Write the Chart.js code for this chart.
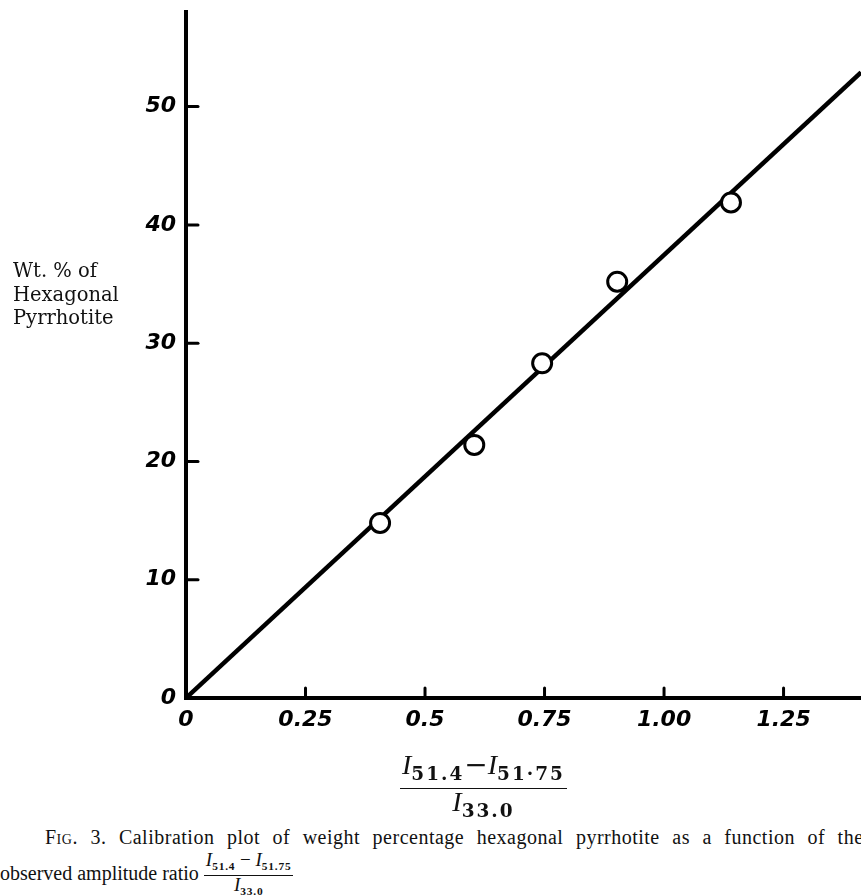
<!DOCTYPE html>
<html>
<head>
<meta charset="utf-8">
<script src="https://cdn.jsdelivr.net/npm/chart.js@4.4.1/dist/chart.umd.min.js"></script>
<style>
  html,body{margin:0;padding:0;background:#fff;}
  #wrap{position:relative;width:861px;height:896px;overflow:hidden;font-family:"DejaVu Serif",serif;color:#111;}
  #c{position:absolute;left:0;top:0;}
  .ylab{position:absolute;left:13px;top:259px;font-size:19.5px;line-height:23.5px;}
  .frac{display:inline-flex;flex-direction:column;align-items:center;vertical-align:middle;}
  .frac .num{padding:0 2px 1px 2px;}
  .frac .den{border-top:1.5px solid #111;align-self:stretch;text-align:center;}
  .frac i{font-style:italic;font-family:"Liberation Serif",serif;}
  .frac sub{font-size:60%;vertical-align:-0.35em;font-weight:bold;}
  #xtitle{position:absolute;left:400px;top:752px;font-size:28px;line-height:26px;}
  #xtitle sub{font-size:66%;letter-spacing:2px;}
  .cap{position:absolute;white-space:nowrap;font-family:"Liberation Serif",serif;font-size:20px;}
  .cap1{left:45px;top:826px;word-spacing:7px;letter-spacing:0.5px;}
  .cap2{left:0;top:852px;}
  .cap2 .frac{font-size:19px;line-height:16px;}
  .cap2 .frac sub{letter-spacing:0.8px;}
  .cap2 .frac .den{padding-top:1px;}
</style>
</head>
<body>
<div id="wrap">
  <canvas id="c" width="861" height="760"></canvas>
  <div class="ylab">Wt. % of<br>Hexagonal<br>Pyrrhotite</div>
  <div id="xtitle" class="frac">
    <span class="num"><i>I</i><sub>51.4</sub>&minus;<i>I</i><sub>51&middot;75</sub></span>
    <span class="den"><i>I</i><sub>33.0</sub></span>
  </div>
  <div class="cap cap1"><span style="font-variant:small-caps">Fig</span>. 3. Calibration plot of weight percentage hexagonal pyrrhotite as a function of the</div>
  <div class="cap cap2">observed amplitude ratio <span class="frac">
    <span class="num"><i>I</i><sub>51.4</sub> &minus; <i>I</i><sub>51.75</sub></span>
    <span class="den"><i>I</i><sub>33.0</sub></span>
  </span></div>
</div>
<script>
(function(){
'use strict';

// measured samples
var ratioX = [0.406, 0.603, 0.745, 0.902, 1.140];
var wtPct  = [14.8, 21.4, 28.3, 35.2, 41.9];

// calibration line through the origin
var fitX = [0, 1.412];
var fitY = [0, 52.9];

var xTickVals   = [0, 0.25, 0.5, 0.75, 1.0, 1.25];
var xTickLabels = ['0', '0.25', '0.5', '0.75', '1.00', '1.25'];
var yTickVals   = [0, 10, 20, 30, 40, 50];
var yTickLabels = ['0', '10', '20', '30', '40', '50'];

function pts(xs, ys){
  return xs.map(function(x, i){ return {x:x, y:ys[i]}; });
}

var tickFont = {family:'"DejaVu Sans"', size:22, weight:'bold', style:'italic'};

// short tick marks pointing into the plot
var innerTicks = {
  id:'innerTicks',
  afterDraw:function(chart){
    var ctx = chart.ctx, xs = chart.scales.x, ys = chart.scales.y;
    var a = chart.chartArea;
    ctx.save();
    ctx.strokeStyle = '#000';
    ctx.lineWidth = 3;
    ctx.lineCap = 'round';
    yTickVals.forEach(function(v){
      if (v === 0) return;
      var py = ys.getPixelForValue(v);
      ctx.beginPath(); ctx.moveTo(a.left, py); ctx.lineTo(a.left + 12, py); ctx.stroke();
    });
    xTickVals.forEach(function(v){
      if (v === 0) return;
      var px = xs.getPixelForValue(v);
      ctx.beginPath(); ctx.moveTo(px, a.bottom); ctx.lineTo(px, a.bottom - 10); ctx.stroke();
    });
    ctx.restore();
  }
};

new Chart(document.getElementById('c').getContext('2d'), {
  type:'scatter',
  data:{
    datasets:[
      {
        type:'line',
        data:pts(fitX, fitY),
        borderColor:'#000',
        borderWidth:4.5,
        pointRadius:0,
        fill:false,
        order:2
      },
      {
        data:pts(ratioX, wtPct),
        pointRadius:9.5,
        pointBorderWidth:3,
        pointBorderColor:'#000',
        pointBackgroundColor:'#fff',
        order:1
      }
    ]
  },
  options:{
    responsive:false,
    animation:false,
    layout:{autoPadding:false, padding:{left:0, right:0, top:12, bottom:0}},
    plugins:{legend:{display:false}, tooltip:{enabled:false}},
    scales:{
      x:{
        type:'linear', min:0, max:1.412,
        grid:{display:false, drawTicks:false},
        border:{display:true, color:'#000', width:4},
        afterBuildTicks:function(s){ s.ticks = xTickVals.map(function(v){ return {value:v}; }); },
        afterFit:function(s){ s.height = 62; s.paddingLeft = 0; s.paddingRight = 0; },
        ticks:{
          color:'#000', font:tickFont, padding:9, maxRotation:0,
          callback:function(v){ var i = xTickVals.indexOf(v); return i < 0 ? '' : xTickLabels[i]; }
        }
      },
      y:{
        type:'linear', min:0, max:58,
        grid:{display:false, drawTicks:false},
        border:{display:true, color:'#000', width:4},
        afterBuildTicks:function(s){ s.ticks = yTickVals.map(function(v){ return {value:v}; }); },
        afterFit:function(s){ s.width = 186; s.paddingTop = 0; s.paddingBottom = 0; },
        ticks:{
          color:'#000', font:tickFont, padding:10,
          callback:function(v){ var i = yTickVals.indexOf(v); return i < 0 ? '' : yTickLabels[i]; }
        }
      }
    }
  },
  plugins:[innerTicks]
});

})();
</script>
</body>
</html>
